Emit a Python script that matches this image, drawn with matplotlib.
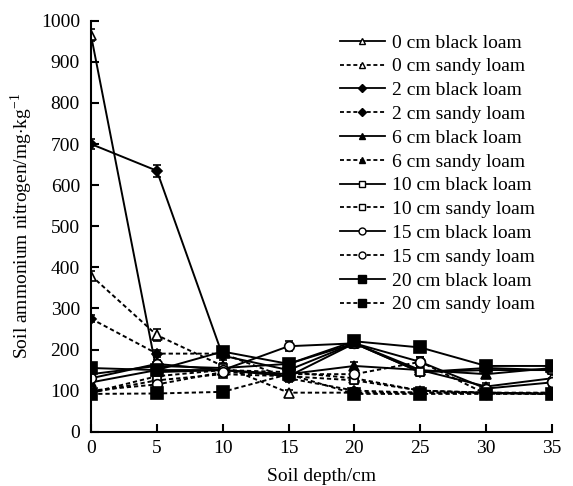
import matplotlib
matplotlib.use("Agg")
import matplotlib.pyplot as plt
from matplotlib.lines import Line2D

plt.rcParams['font.family'] = ['Liberation Serif', 'DejaVu Serif']
plt.rcParams['mathtext.fontset'] = 'custom'
plt.rcParams['mathtext.rm'] = 'Liberation Serif'

depth = [0, 5, 10, 15, 20, 25, 30, 35]

labels = ["0 cm black loam", "0 cm sandy loam", "2 cm black loam", "2 cm sandy loam",
          "6 cm black loam", "6 cm sandy loam", "10 cm black loam", "10 cm sandy loam",
          "15 cm black loam", "15 cm sandy loam", "20 cm black loam", "20 cm sandy loam"]

bl0 = [965, 145, 150, 135, 215, 150, 110, 130]
sl0 = [380, 235, 160, 95, 95, 95, 95, 92]
bl2 = [700, 635, 185, 150, 215, 145, 150, 150]
sl2 = [275, 190, 190, 130, 100, 95, 95, 92]
bl6 = [120, 150, 150, 140, 160, 150, 140, 155]
sl6 = [95, 135, 150, 145, 130, 100, 95, 95]
bl10 = [140, 160, 155, 165, 215, 145, 155, 150]
sl10 = [95, 125, 140, 135, 125, 100, 95, 92]
bl15 = [130, 165, 150, 208, 215, 170, 105, 120]
sl15 = [100, 115, 145, 140, 140, 170, 92, 95]
bl20 = [155, 150, 195, 165, 220, 205, 160, 160]
sl20 = [92, 93, 97, 140, 92, 92, 92, 92]

err_bl0 = [15, 10, 8, 8, 12, 10, 8, 10]
err_sl0 = [10, 15, 8, 6, 6, 6, 5, 5]
err_bl2 = [12, 15, 10, 8, 12, 10, 8, 10]
err_sl2 = [8, 8, 8, 8, 6, 6, 5, 5]
err_bl6 = [10, 10, 8, 8, 10, 8, 8, 10]
err_sl6 = [6, 8, 8, 8, 8, 6, 5, 5]
err_bl10 = [10, 10, 8, 8, 10, 8, 8, 10]
err_sl10 = [6, 8, 8, 8, 8, 6, 5, 5]
err_bl15 = [10, 10, 8, 12, 10, 12, 8, 10]
err_sl15 = [6, 8, 8, 8, 8, 12, 5, 5]
err_bl20 = [10, 10, 10, 10, 12, 10, 10, 12]
err_sl20 = [6, 6, 6, 8, 6, 6, 5, 5]

series = [bl0, sl0, bl2, sl2, bl6, sl6, bl10, sl10, bl15, sl15, bl20, sl20]
errors = [err_bl0, err_sl0, err_bl2, err_sl2, err_bl6, err_sl6,
          err_bl10, err_sl10, err_bl15, err_sl15, err_bl20, err_sl20]
markers = ['^', '^', 'D', 'D', '^', '^', 's', 's', 'o', 'o', 's', 's']
fills = ['white', 'white', 'black', 'black', 'black', 'black',
         'white', 'white', 'white', 'white', 'black', 'black']
sizes = [7, 7, 5, 5, 7, 7, 6, 6, 7, 7, 8, 8]
leg_sizes = [5, 5, 4.5, 4.5, 5, 5, 5, 5, 5, 5, 6, 6]

fig = plt.figure(figsize=(5.73, 4.86), dpi=100)
ax = fig.add_axes([0.1588, 0.1117, 0.8045, 0.8457])

handles = []
for i, (vals, errs) in enumerate(zip(series, errors)):
    ls = '-' if i % 2 == 0 else (0, (2.2, 1.5))
    ax.errorbar(depth, vals, yerr=errs, color='black', linestyle=ls, linewidth=1.4,
                marker=markers[i], markersize=sizes[i], markerfacecolor=fills[i],
                markeredgecolor='black', markeredgewidth=1.2, ecolor='black',
                elinewidth=1.2, capsize=3, capthick=1.2)
    handles.append(Line2D([], [], color='black', linestyle=ls, linewidth=1.3,
                          marker=markers[i], markersize=leg_sizes[i],
                          markerfacecolor=fills[i], markeredgecolor='black',
                          markeredgewidth=1.0))

ax.set_xlim(0, 35)
ax.set_ylim(0, 1000)
ax.set_xticks(range(0, 36, 5))
ax.set_yticks(range(0, 1001, 100))
ax.spines['top'].set_visible(False)
ax.spines['right'].set_visible(False)
for s in ['left', 'bottom']:
    ax.spines[s].set_linewidth(1.5)
ax.tick_params(direction='in', length=6, width=1.5, labelsize=14)
ax.tick_params(axis='y', pad=8)
ax.tick_params(axis='x', pad=6)
ax.set_xlabel("Soil depth/cm", fontsize=14, labelpad=8)
ax.set_ylabel(r"Soil ammonium nitrogen/mg$\cdot$kg$^{-1}$", fontsize=14, labelpad=4)

leg = fig.legend(handles, labels, loc='upper left', bbox_to_anchor=(0.5934, 0.930),
                 frameon=False, fontsize=14, handlelength=2.3, handletextpad=0.36,
                 labelspacing=0.318, borderaxespad=0, borderpad=0)

fig.savefig("out.png", dpi=100)
